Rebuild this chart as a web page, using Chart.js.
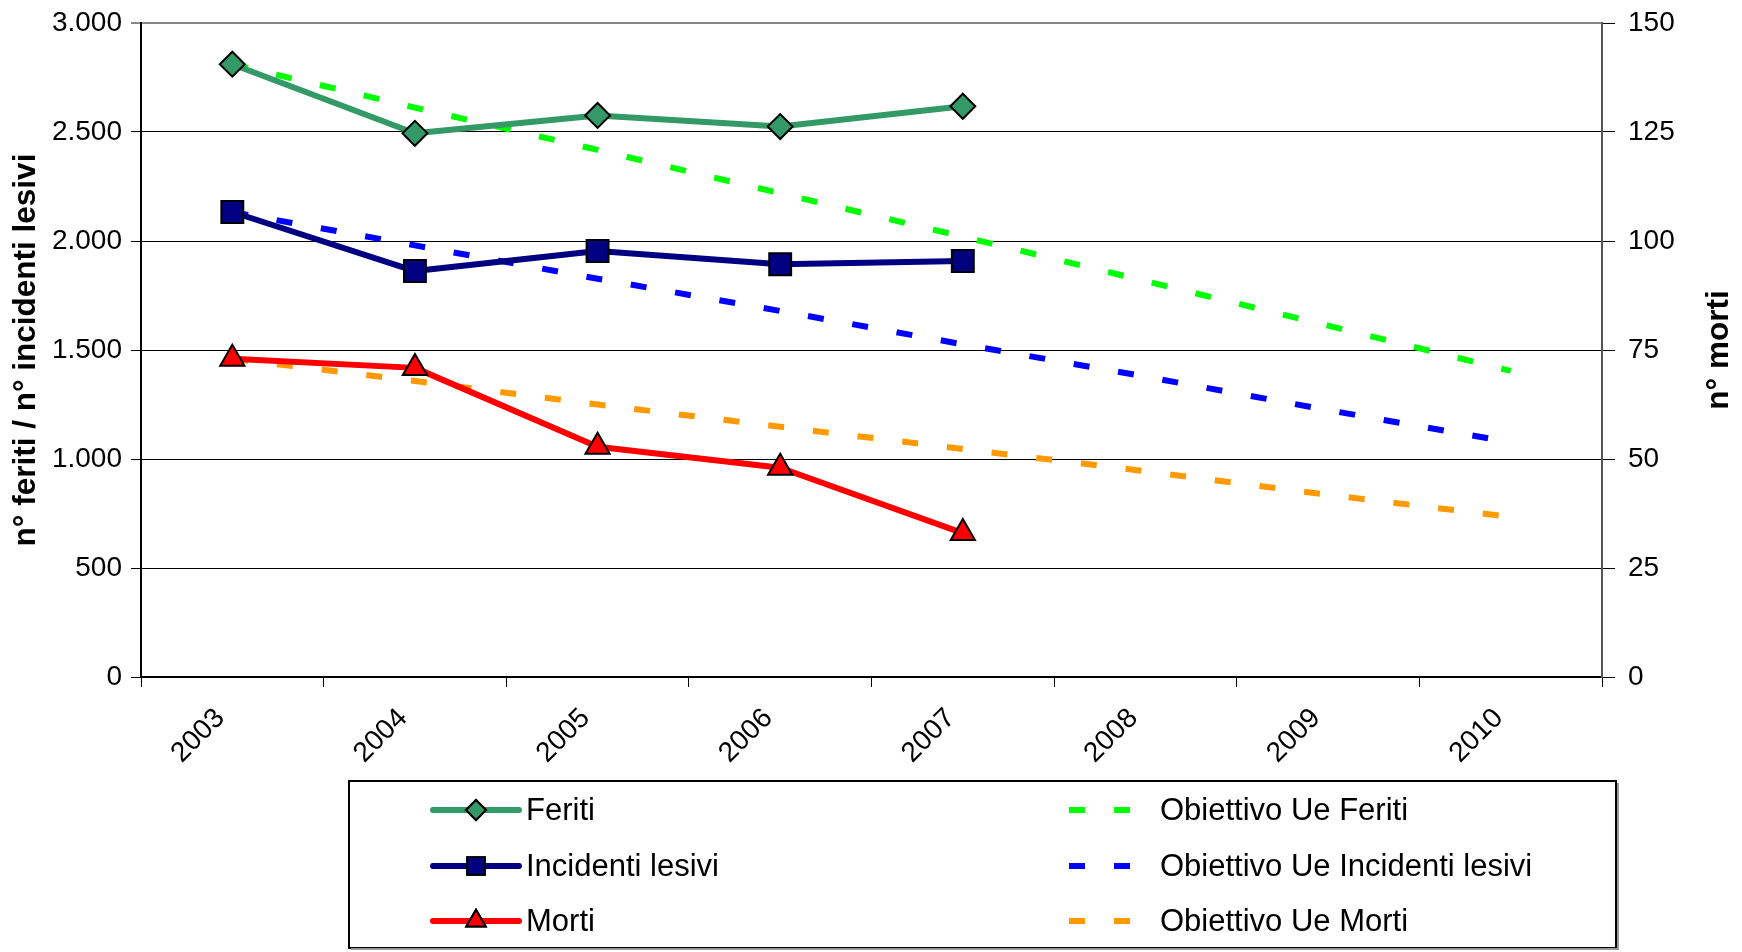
<!DOCTYPE html>
<html lang="it">
<head>
<meta charset="UTF-8">
<title>Feriti, incidenti lesivi e morti</title>
<script src="https://cdn.jsdelivr.net/npm/chart.js"></script>
<style>
    body { margin: 0; padding: 0; background: #fff; }
    .wrap { position: relative; width: 1742px; height: 952px; }
</style>
</head>
<body>
<div class="wrap"><canvas id="chart"></canvas></div>
<script>
// data
const years = ['2003', '2004', '2005', '2006', '2007', '2008', '2009', '2010'];
const feriti = [2811, 2494, 2576, 2525, 2618, null, null, null];
const incidenti = [2133, 1862, 1954, 1893, 1908, null, null, null];
const morti = [73, 70.9, 52.8, 48, 33, null, null, null];
const obFeriti = [2811, 2612, 2418, 2219, 2020, 1816, 1612, 1404];
const obIncidenti = [2133, 1980, 1827, 1679, 1526, 1378, 1224, 1077];
const obMorti = [73, 67.9, 62.5, 57.4, 52.3, 47.2, 41.8, 36.7];
const leftTicks = ['0', '500', '1.000', '1.500', '2.000', '2.500', '3.000'];
const rightTicks = ['0', '25', '50', '75', '100', '125', '150'];

const FONT = 'Liberation Sans, Arial, sans-serif';
Chart.defaults.font.family = FONT;
Chart.defaults.color = '#000';

// legend drawn inside a framed box under the axis, two columns like the original
const boxLegend = {
    id: 'boxLegend',
    afterDraw(chart) {
        const ctx = chart.ctx;
        ctx.save();
        ctx.strokeStyle = '#000';
        ctx.lineWidth = 2;
        ctx.strokeRect(349, 781, 1267, 167);
        ctx.strokeStyle = '#999';
        ctx.beginPath();
        ctx.moveTo(351, 949); ctx.lineTo(1618, 949); ctx.lineTo(1618, 783);
        ctx.stroke();

        const rows = [810, 866, 921];
        ctx.font = '31px ' + FONT;
        ctx.textBaseline = 'middle';
        ctx.fillStyle = '#000';
        chart.data.datasets.forEach((ds, i) => {
            const col = i < 3 ? 0 : 1;
            const y = rows[i % 3];
            ctx.save();
            ctx.strokeStyle = ds.borderColor;
            ctx.lineWidth = ds.borderWidth;
            if (col === 0) {
                ctx.lineCap = 'round';
                ctx.beginPath();
                ctx.moveTo(433, y); ctx.lineTo(519, y);
                ctx.stroke();
                ctx.lineWidth = 2;
                ctx.strokeStyle = '#000';
                ctx.fillStyle = ds.pointBackgroundColor;
                Chart.helpers.drawPoint(ctx, {pointStyle: ds.pointStyle, radius: ds.pointRadius * 0.8, borderWidth: 2}, 476, y);
                ctx.fill();
                ctx.stroke();
            } else {
                ctx.lineCap = 'butt';
                ctx.setLineDash(ds.borderDash);
                ctx.beginPath();
                ctx.moveTo(1069, y); ctx.lineTo(1132, y);
                ctx.stroke();
            }
            ctx.restore();
            ctx.fillStyle = '#000';
            ctx.fillText(ds.label, col === 0 ? 526 : 1160, y + 1);
        });

        // right axis title reads bottom to top
        ctx.save();
        ctx.translate(1719, 350);
        ctx.rotate(-Math.PI / 2);
        ctx.font = 'bold 31.5px ' + FONT;
        ctx.textAlign = 'center';
        ctx.fillText('n° morti', 0, 0);
        ctx.restore();
        ctx.restore();
    }
};

const solid = (label, data, color, style, radius, axis) => ({
    label, data, yAxisID: axis,
    borderColor: color, borderWidth: 6, borderJoinStyle: 'round',
    pointStyle: style, pointRadius: radius, pointHoverRadius: radius,
    pointBackgroundColor: color, pointBorderColor: '#000', pointBorderWidth: 2,
    tension: 0, order: 1
});
const dashed = (label, data, color, axis) => ({
    label, data, yAxisID: axis,
    borderColor: color, borderWidth: 6, borderDash: [16, 29], borderCapStyle: 'butt',
    pointRadius: 0, pointHoverRadius: 0, tension: 0, order: 2
});

// fixed axis sizes so the plot area sits where it does in the original
const fixY = w => s => { s.width = w; s.paddingTop = 0; s.paddingBottom = 0; };

new Chart(document.getElementById('chart'), {
    type: 'line',
    data: {
        labels: years,
        datasets: [
            solid('Feriti', feriti, '#339966', 'rectRot', 12.5, 'y'),
            solid('Incidenti lesivi', incidenti, '#000080', 'rect', 15.5, 'y'),
            solid('Morti', morti, '#ff0000', 'triangle', 14, 'y1'),
            dashed('Obiettivo Ue Feriti', obFeriti, '#00ff00', 'y'),
            dashed('Obiettivo Ue Incidenti lesivi', obIncidenti, '#0000ff', 'y'),
            dashed('Obiettivo Ue Morti', obMorti, '#ff9900', 'y1')
        ]
    },
    options: {
        responsive: true,
        maintainAspectRatio: false,
        animation: false,
        layout: { padding: { top: 23, bottom: 175, left: 0, right: 0 } },
        plugins: { legend: { display: false }, tooltip: { enabled: false } },
        scales: {
            x: {
                offset: true,
                afterFit: s => { s.height = 100; },
                grid: { offset: true, drawOnChartArea: false, tickLength: 10, color: '#000' },
                border: { color: '#000', width: 2 },
                ticks: { autoSkip: false, minRotation: 45, maxRotation: 45, padding: 15, labelOffset: -12, font: { size: 28 } }
            },
            y: {
                position: 'left',
                min: 0, max: 3000,
                afterFit: fixY(141),
                grid: {
                    tickLength: 10,
                    color: c => (c.tick && c.tick.value === 3000) ? '#888' : '#000',
                    lineWidth: c => (c.tick && c.tick.value === 3000) ? 2 : 1
                },
                border: { color: '#000', width: 2 },
                ticks: { stepSize: 500, padding: 9, font: { size: 28 }, callback: (v, i) => leftTicks[i] },
                title: { display: true, text: 'n° feriti / n° incidenti lesivi', font: { size: 31.5, weight: 'bold' }, padding: { top: 7 } }
            },
            y1: {
                position: 'right',
                min: 0, max: 150,
                afterFit: fixY(140),
                grid: { drawOnChartArea: false, tickLength: 13, color: '#000' },
                border: { color: '#555', width: 2 },
                ticks: { stepSize: 25, padding: 13, font: { size: 28 }, callback: (v, i) => rightTicks[i] }
            }
        }
    },
    plugins: [boxLegend]
});
</script>
</body>
</html>
